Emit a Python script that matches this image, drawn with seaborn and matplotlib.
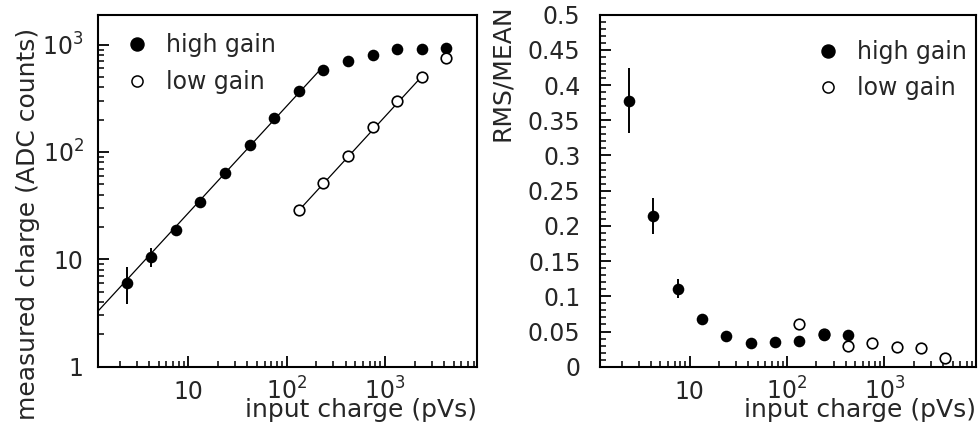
import numpy as np
import pandas as pd
import seaborn as sns
import matplotlib.pyplot as plt
from matplotlib.ticker import FuncFormatter, LogLocator, MultipleLocator
from matplotlib.lines import Line2D

## values
charge = [2.37, 4.2, 7.5, 13.3, 23.7, 42.2, 75, 133, 237, 422, 750, 1334, 2370, 4220]

hg_adc = [6.0, 10.6, 18.7, 34.4, 64, 116, 206, 367, 578, 706, 808, 905, 905, 932]
hg_adc_lo = [2.2, 2.1, 0, 0, 0, 0, 0, 0, 0, 0, 0, 0, 0, 0]
hg_adc_hi = [2.5, 2.1, 0, 0, 0, 0, 0, 0, 0, 0, 0, 0, 0, 0]

lg_charge = [133, 237, 422, 750, 1334, 2370, 4220]
lg_adc = [29, 51, 92, 170, 301, 498, 758]

hg_fit_x = [1.2, 237]
hg_fit_y = [3.27, 630]
lg_fit_x = [133, 2370]
lg_fit_y = [28.5, 505]

hg_rms_charge = [2.37, 4.2, 7.5, 13.3, 23.7, 42.2, 75, 133, 237, 422]
hg_rms = [0.378, 0.214, 0.111, 0.068, 0.044, 0.034, 0.035, 0.036, 0.045, 0.045]
hg_rms_err = [0.046, 0.026, 0.013, 0.004, 0, 0, 0, 0, 0, 0]

lg_rms_charge = [133, 237, 422, 750, 1334, 2370, 4220]
lg_rms = [0.0605, 0.046, 0.030, 0.034, 0.028, 0.027, 0.0125]

sns.set_style("ticks")
plt.rcParams["font.family"] = ["DejaVu Sans"]
plt.rcParams["mathtext.default"] = "regular"
plt.rcParams["axes.linewidth"] = 1.5
plt.rcParams["xtick.direction"] = "in"
plt.rcParams["ytick.direction"] = "in"

fig = plt.figure(figsize=(9.79, 4.34), dpi=100)
W, H = 979, 434
ax1 = fig.add_axes([97.7 / W, (H - 366.7) / H, (477.3 - 97.7) / W, (366.7 - 14.7) / H])
ax2 = fig.add_axes([600 / W, (H - 366.7) / H, (976 - 600) / W, (366.7 - 14.7) / H])


def pow_fmt(v, pos):
    n = int(round(np.log10(v)))
    if n == 0:
        return "1"
    if n == 1:
        return "10"
    return "$10^{%d}$" % n


## left panel: measured charge
hg = pd.DataFrame({"x": charge, "y": hg_adc})
lg = pd.DataFrame({"x": lg_charge, "y": lg_adc})

sns.lineplot(x=hg_fit_x, y=hg_fit_y, ax=ax1, color="black", linewidth=0.9, zorder=1)
sns.lineplot(x=lg_fit_x, y=lg_fit_y, ax=ax1, color="black", linewidth=0.9, zorder=1)
ax1.errorbar(charge, hg_adc, yerr=[hg_adc_lo, hg_adc_hi], fmt="none",
             ecolor="black", elinewidth=1.4, capsize=0, zorder=2)
sns.scatterplot(data=hg, x="x", y="y", ax=ax1, marker="o", s=70, color="black",
                edgecolor="black", linewidth=0, zorder=3)
sns.scatterplot(data=lg, x="x", y="y", ax=ax1, marker="o", s=58, facecolor="white",
                edgecolor="black", linewidth=1.2, zorder=3)

ax1.set_yscale("log")
ax1.set_ylim(1, 1900)
ax1.yaxis.set_major_locator(LogLocator(base=10))
ax1.yaxis.set_minor_locator(LogLocator(base=10, subs=np.arange(2, 10)))
ax1.yaxis.set_major_formatter(FuncFormatter(pow_fmt))
ax1.yaxis.set_minor_formatter(FuncFormatter(lambda v, p: ""))
ax1.set_ylabel("measured charge (ADC counts)", loc="top", fontsize=18)
ax1.yaxis.set_label_coords(-0.152, 0.962)

## right panel: RMS/MEAN
hr = pd.DataFrame({"x": hg_rms_charge, "y": hg_rms})
lr = pd.DataFrame({"x": lg_rms_charge, "y": lg_rms})

ax2.errorbar(hg_rms_charge, hg_rms, yerr=hg_rms_err, fmt="none",
             ecolor="black", elinewidth=1.4, capsize=0, zorder=2)
sns.scatterplot(data=lr, x="x", y="y", ax=ax2, marker="o", s=58, facecolor="white",
                edgecolor="black", linewidth=1.2, zorder=3)
sns.scatterplot(data=hr, x="x", y="y", ax=ax2, marker="o", s=70, color="black",
                edgecolor="black", linewidth=0, zorder=4)

ax2.set_ylim(0, 0.5)
ax2.yaxis.set_major_locator(MultipleLocator(0.05))
ax2.yaxis.set_minor_locator(MultipleLocator(0.01))
ax2.yaxis.set_major_formatter(FuncFormatter(lambda v, p: "0" if abs(v) < 1e-9 else ("%.3f" % v).rstrip("0")))
ax2.set_ylabel("RMS/MEAN", loc="top", fontsize=18)
ax2.yaxis.set_label_coords(-0.23, 1.028)

## shared x axis look (log, ROOT-like inward ticks)
for ax in (ax1, ax2):
    ax.set_xscale("log")
    ax.set_xlim(1.2, 8700)
    ax.xaxis.set_major_locator(LogLocator(base=10))
    ax.xaxis.set_minor_locator(LogLocator(base=10, subs=np.arange(2, 10)))
    ax.xaxis.set_major_formatter(FuncFormatter(pow_fmt))
    ax.xaxis.set_minor_formatter(FuncFormatter(lambda v, p: ""))
    ax.set_xlabel("input charge (pVs)", loc="right", fontsize=18)
    ax.xaxis.set_label_coords(1.0, -0.088)
    for s in ax.spines.values():
        s.set_color("black")
        s.set_linewidth(1.5)
    ax.tick_params(which="major", length=8, width=1.3, labelsize=17,
                   top=False, right=False, color="black")
    ax.tick_params(axis="y", which="major", pad=10)
    ax.tick_params(axis="x", which="major", pad=23.5)
    ax.tick_params(which="minor", length=4.5, width=1.1, top=False, right=False, color="black")

ax2.tick_params(axis="y", which="major", pad=14)

## legends
handles = [
    Line2D([], [], linestyle="none", marker="o", markersize=9.4, color="black"),
    Line2D([], [], linestyle="none", marker="o", markersize=8, markerfacecolor="white",
           markeredgecolor="black", markeredgewidth=1.1),
]
labels = ["high gain", "low gain"]
ax1.legend(handles, labels, loc="upper left", bbox_to_anchor=(0.072, 0.947), frameon=False,
           fontsize=17, borderpad=0, borderaxespad=0, handlelength=1.0,
           handletextpad=0.73, labelspacing=0.55)
ax2.legend(handles, labels, loc="upper left", bbox_to_anchor=(0.574, 0.927), frameon=False,
           fontsize=17, borderpad=0, borderaxespad=0, handlelength=1.0,
           handletextpad=0.73, labelspacing=0.5)

## keep "10" and "10^n" on a common baseline, like the original
for ax in (ax1, ax2):
    plt.setp(ax.get_xticklabels(), va="baseline")

fig.savefig("out.png", dpi=100)
